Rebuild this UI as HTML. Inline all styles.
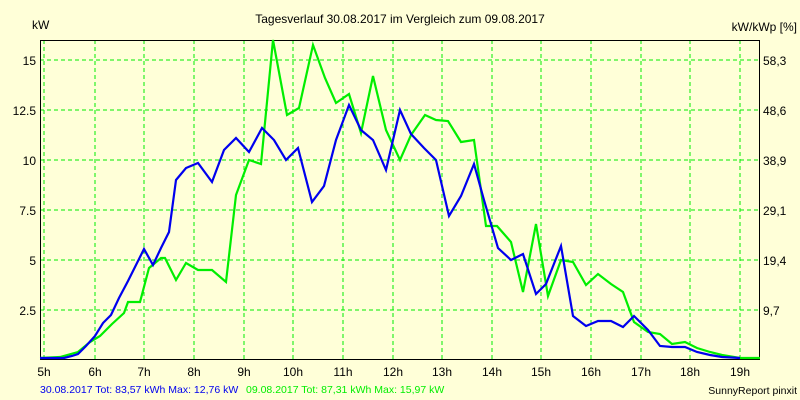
<!DOCTYPE html>
<html><head><meta charset="utf-8"><style>
html,body{margin:0;padding:0;background:#ffffd8;}
svg{display:block;font-family:"Liberation Sans",Arial,sans-serif;}
</style></head><body>
<svg width="800" height="400" xmlns="http://www.w3.org/2000/svg">
<rect width="800" height="400" fill="#ffffd8"/>
<g stroke="#00ee00" stroke-width="1" stroke-dasharray="4,3">
<line x1="40" y1="60" x2="760" y2="60"/><line x1="40" y1="110" x2="760" y2="110"/>
<line x1="40" y1="160" x2="760" y2="160"/><line x1="40" y1="210" x2="760" y2="210"/>
<line x1="40" y1="260" x2="760" y2="260"/><line x1="40" y1="310" x2="760" y2="310"/>
<line x1="44" y1="40" x2="44" y2="360"/><line x1="95" y1="40" x2="95" y2="360"/>
<line x1="144" y1="40" x2="144" y2="360"/><line x1="194" y1="40" x2="194" y2="360"/>
<line x1="244" y1="40" x2="244" y2="360"/><line x1="293" y1="40" x2="293" y2="360"/>
<line x1="343" y1="40" x2="343" y2="360"/><line x1="393" y1="40" x2="393" y2="360"/>
<line x1="442" y1="40" x2="442" y2="360"/><line x1="492" y1="40" x2="492" y2="360"/>
<line x1="541" y1="40" x2="541" y2="360"/><line x1="591" y1="40" x2="591" y2="360"/>
<line x1="641" y1="40" x2="641" y2="360"/><line x1="690" y1="40" x2="690" y2="360"/>
<line x1="740" y1="40" x2="740" y2="360"/>
</g>
<rect x="40.5" y="40.5" width="719" height="319" fill="none" stroke="#000" stroke-width="1"/>
<polyline fill="none" stroke="#00ee00" stroke-width="2.2" points="40,358 60,357 78,352 90,342 100,336 112,324 124,313 128,302 140,302 149,268 161,258 165,258 176,280 186,263 198,270 212,270 226,282 236,195 249,160 261,164 273,40 287,115 299,108 313,45 325,78 336,103 349,94 361,133 373,76 386,130 400,160 411,135 425,115 436,120 448,121 461,142 474,140 486,226 497,226 511,242 523,292 536,224 548,296 561,260 573,262 586,285 598,274 611,284 623,292 634,322 648,332 660,334 672,344 685,342 697,348 710,352 722,355 740,358 760,358"/>
<polyline fill="none" stroke="#0000ee" stroke-width="2.2" points="40,358 64,358 72,356 78,354 86,346 95,336 103,323 111,315 119,298 128,281 136,265 144,249 153,265 161,248 169,232 176,180 186,168 198,163 212,182 224,150 236,138 249,152 262,128 274,140 286,160 298,148 312,202 324,186 336,140 349,105 361,130 373,140 386,170 400,110 411,134 424,148 436,160 449,216 461,196 474,164 484,200 498,248 511,260 523,254 536,294 546,284 561,246 573,316 586,326 598,321 611,321 623,327 634,316 648,330 660,346 672,347 685,347 697,352 710,355 722,357 740,358"/>
<g font-size="12" fill="#000">
<text x="400" y="23" text-anchor="middle">Tagesverlauf 30.08.2017 im Vergleich zum 09.08.2017</text>
<text x="32" y="29">kW</text>
<text x="797" y="31" text-anchor="end">kW/kWp [%]</text>
<g text-anchor="end">
<text x="36" y="65">15</text><text x="36" y="115">12.5</text><text x="36" y="165">10</text>
<text x="36" y="215">7.5</text><text x="36" y="265">5</text><text x="36" y="315">2.5</text>
</g>
<text x="763" y="65">58,3</text><text x="763" y="115">48,6</text><text x="763" y="165">38,9</text>
<text x="763" y="215">29,1</text><text x="763" y="265">19,4</text><text x="763" y="315">9,7</text>
<g text-anchor="middle">
<text x="44" y="376">5h</text><text x="95" y="376">6h</text><text x="144" y="376">7h</text>
<text x="194" y="376">8h</text><text x="244" y="376">9h</text><text x="293" y="376">10h</text>
<text x="343" y="376">11h</text><text x="393" y="376">12h</text><text x="442" y="376">13h</text>
<text x="492" y="376">14h</text><text x="541" y="376">15h</text><text x="591" y="376">16h</text>
<text x="641" y="376">17h</text><text x="690" y="376">18h</text><text x="740" y="376">19h</text>
</g>
</g>
<g font-size="10.5">
<text x="40" y="393" fill="#0000ee">30.08.2017 Tot: 83,57 kWh Max: 12,76 kW</text>
<text x="246" y="393" fill="#00ee00">09.08.2017 Tot: 87,31 kWh Max: 15,97 kW</text>
<text x="797" y="394" text-anchor="end" fill="#000">SunnyReport pinxit</text>
</g>
</svg>
</body></html>
